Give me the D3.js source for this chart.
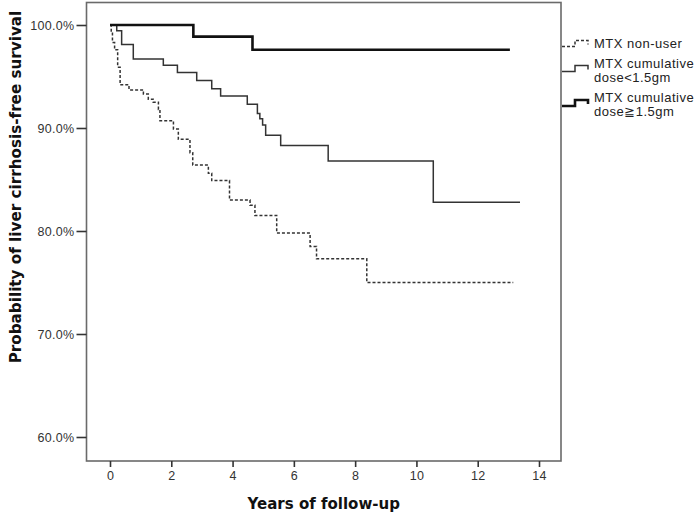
<!DOCTYPE html>
<html>
<head>
<meta charset="utf-8">
<script src="https://cdn.jsdelivr.net/npm/d3@7"></script>
<style>
  html, body { margin: 0; padding: 0; background: #fff; }
  svg { display: block; font-family: "Liberation Sans", Arial, sans-serif; }
</style>
</head>
<body>
<svg id="chart" width="700" height="517"></svg>
<script>
// ---- data ----
const xTicks = [0, 2, 4, 6, 8, 10, 12, 14];
const yTicks = [60, 70, 80, 90, 100];

const nonUserTime = [0, 0.04, 0.08, 0.15, 0.25, 0.33, 0.62, 1.09, 1.25, 1.41, 1.58, 1.63, 2.07, 2.23, 2.61, 2.70, 3.21, 3.32, 3.90, 4.57, 4.73, 5.44, 6.53, 6.74, 8.38, 13.16];
const nonUserSurv = [100, 99.3, 98.3, 97.6, 95.9, 94.2, 93.7, 93.3, 92.8, 92.5, 91.8, 90.7, 89.9, 88.9, 87.6, 86.4, 85.6, 84.9, 83.0, 82.5, 81.5, 79.8, 78.5, 77.3, 75.0, 75.0];

const lowTime = [0, 0.22, 0.38, 0.76, 1.74, 2.20, 2.83, 3.32, 3.61, 4.48, 4.81, 4.89, 4.98, 5.08, 5.57, 7.12, 10.55, 13.38];
const lowSurv = [100, 99.45, 98.1, 96.7, 96.1, 95.4, 94.6, 93.8, 93.1, 92.3, 91.4, 90.9, 90.3, 89.3, 88.3, 86.8, 82.8, 82.8];

const highTime = [0, 2.72, 4.65, 13.05];
const highSurv = [100, 98.87, 97.6, 97.6];

const seriesNames = ["MTX non-user", "MTX cumulative\ndose<1.5gm", "MTX cumulative\ndose\u22671.5gm"];

// ---- layout ----
const svg = d3.select("#chart");
const frame = { left: 86.5, right: 561, top: 2.5, bottom: 461 };

const x = d3.scaleLinear().domain([0, 14]).range([110, 539]);
const y = d3.scaleLinear().domain([60, 100]).range([437, 25]);

const frameColor = "#6a6a6a";
const tickFont = "Liberation Sans, Arial, sans-serif";
const titleFont = "DejaVu Sans, Verdana, sans-serif";

// frame
svg.append("rect")
  .attr("x", frame.left).attr("y", frame.top)
  .attr("width", frame.right - frame.left).attr("height", frame.bottom - frame.top)
  .attr("fill", "none").attr("stroke", frameColor).attr("stroke-width", 1.6);

// x axis
const xAxis = svg.append("g")
  .attr("transform", `translate(0,${frame.bottom})`)
  .call(d3.axisBottom(x).tickValues(xTicks).tickSize(6).tickPadding(4).tickFormat(d3.format("d")));
xAxis.select(".domain").remove();
xAxis.selectAll("line").attr("stroke", "#333").attr("stroke-width", 1.6);
xAxis.selectAll("text").attr("font-size", 12.5).attr("fill", "#333")
  .attr("letter-spacing", 0.3).attr("font-family", tickFont);

// y axis
const yAxis = svg.append("g")
  .attr("transform", `translate(${frame.left},0)`)
  .call(d3.axisLeft(y).tickValues(yTicks).tickSize(10).tickPadding(2).tickFormat(d => d3.format(".1f")(d) + "%"));
yAxis.select(".domain").remove();
yAxis.selectAll("line").attr("stroke", "#333").attr("stroke-width", 1.6);
yAxis.selectAll("text").attr("font-size", 12.5).attr("fill", "#333")
  .attr("letter-spacing", 0.3).attr("font-family", tickFont);

// axis titles
svg.append("text")
  .attr("x", (frame.left + frame.right) / 2).attr("y", 509)
  .attr("text-anchor", "middle").attr("font-weight", "bold").attr("font-size", 15)
  .attr("font-family", titleFont)
  .attr("fill", "#111").text("Years of follow-up");

svg.append("text")
  .attr("transform", "translate(21,187) rotate(-90)")
  .attr("text-anchor", "middle").attr("font-weight", "bold").attr("font-size", 15.2)
  .attr("font-family", titleFont)
  .attr("fill", "#111").text("Probability of liver cirrhosis-free survival");

// curves
const line = d3.line().x(d => x(d[0])).y(d => y(d[1])).curve(d3.curveStepAfter);
const zip = (a, b) => a.map((t, i) => [t, b[i]]);

const styles = [
  { w: 1.5, c: "#333", dash: "3,2" },
  { w: 1.5, c: "#333", dash: null },
  { w: 2.6, c: "#111", dash: null }
];
const curves = [zip(nonUserTime, nonUserSurv), zip(lowTime, lowSurv), zip(highTime, highSurv)];

curves.forEach((pts, i) => {
  svg.append("path").datum(pts)
    .attr("d", line)
    .attr("fill", "none")
    .attr("stroke", styles[i].c)
    .attr("stroke-width", styles[i].w)
    .attr("stroke-dasharray", styles[i].dash);
});

// legend
const legendBase = [46.5, 71.5, 106];
const textBase = [[48], [67.5, 81.5], [101.5, 115.5]];
seriesNames.forEach((name, i) => {
  const yl = legendBase[i];
  const sym = [[frame.right + 1, yl], [575, yl], [575, yl - 6], [588, yl - 6], [588, yl - 2]];
  svg.append("path")
    .attr("d", d3.line()(sym))
    .attr("fill", "none")
    .attr("stroke", styles[i].c)
    .attr("stroke-width", styles[i].w)
    .attr("stroke-dasharray", styles[i].dash);
  const lines = name.split("\n");
  lines.forEach((ln, j) => {
    svg.append("text")
      .attr("x", 594).attr("y", textBase[i][j])
      .attr("font-size", 13).attr("letter-spacing", 0.5).attr("fill", "#222")
      .attr("font-family", tickFont)
      .text(ln);
  });
});
</script>
</body>
</html>
